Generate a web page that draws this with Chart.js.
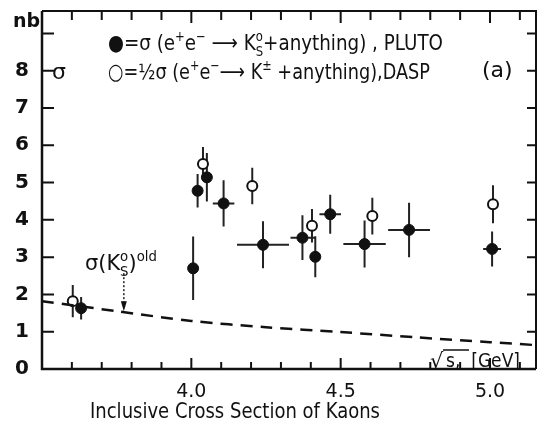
<!DOCTYPE html>
<html lang="en">
<head>
  <meta charset="UTF-8">
  <title>Inclusive Cross Section of Kaons</title>
  <script src="https://cdn.jsdelivr.net/npm/chart.js"></script>
  <style>
    html, body { margin: 0; padding: 0; background: #fff; }
  </style>
</head>
<body>
  <canvas id="kaonChart" width="537" height="427"></canvas>

  <script>
    // PLUTO: sigma(e+e- -> K0s + anything)
    const plutoX    = [3.631, 4.006, 4.021, 4.052, 4.108, 4.24, 4.372, 4.415, 4.465, 4.58, 4.729, 5.007];
    const plutoY    = [1.63, 2.70, 4.78, 5.14, 4.44, 3.33, 3.52, 3.01, 4.15, 3.35, 3.73, 3.22];
    const plutoXErr = [0, 0, 0, 0, 0.036, 0.087, 0.04, 0, 0.036, 0.071, 0.07, 0.03];
    const plutoYErr = [0.3, 0.85, 0.45, 0.65, 0.62, 0.63, 0.6, 0.55, 0.52, 0.63, 0.73, 0.47];

    // DASP: 1/2 sigma(e+e- -> K+- + anything)
    const daspX    = [3.603, 4.039, 4.204, 4.404, 4.606, 5.01];
    const daspY    = [1.82, 5.50, 4.91, 3.84, 4.10, 4.42];
    const daspYErr = [0.43, 0.45, 0.49, 0.45, 0.49, 0.51];

    // old sigma(K0s) curve (dashed) and its arrow
    const oldX = [3.5, 3.75, 4.0, 4.25, 4.5, 4.75, 5.0, 5.154];
    const oldY = [1.82, 1.55, 1.29, 1.12, 0.99, 0.85, 0.72, 0.64];
    const arrowX = 3.774, arrowTop = 2.57, arrowTip = 1.55;

    // axes
    const yTicks = [0, 1, 2, 3, 4, 5, 6, 7, 8, 9];
    const xLabels = [4.0, 4.5, 5.0];

    const FONT = "'DejaVu Sans', sans-serif";
    const INK = '#111';

    // text with super/subscripts; squeezed horizontally to fit width w (if given)
    function rich(ctx, parts, x, y, size, w) {
      const run = (draw) => {
        let cx = 0;
        for (const [t, kind] of parts) {
          const small = `${Math.round(size * 0.62)}px ${FONT}`;
          if (kind === 'n') {
            ctx.font = `${size}px ${FONT}`;
            if (draw) ctx.fillText(t, cx, 0);
            cx += ctx.measureText(t).width;
          } else if (kind === 'sup') {
            ctx.font = small;
            if (draw) ctx.fillText(t, cx, -size * 0.42);
            cx += ctx.measureText(t).width;
          } else if (kind === 'supsub') {
            const [a, b] = t.split('|');
            ctx.font = small;
            if (draw) { ctx.fillText(a, cx, -size * 0.42); ctx.fillText(b, cx, size * 0.25); }
            cx += Math.max(ctx.measureText(a).width, ctx.measureText(b).width);
          }
        }
        return cx;
      };
      const natural = run(false);
      ctx.save();
      ctx.translate(x, y);
      if (w) ctx.scale(w / natural, 1);
      run(true);
      ctx.restore();
    }

    const framePlugin = {
      id: 'frame',
      beforeDatasetsDraw(chart) {
        const ctx = chart.ctx;
        const xs = chart.scales.x, ys = chart.scales.y;
        ctx.save();
        ctx.strokeStyle = '#222';
        ctx.lineWidth = 2;
        ctx.beginPath();
        plutoX.forEach((x, i) => {
          const px = xs.getPixelForValue(x), py = ys.getPixelForValue(plutoY[i]);
          ctx.moveTo(px, ys.getPixelForValue(plutoY[i] - plutoYErr[i]));
          ctx.lineTo(px, ys.getPixelForValue(plutoY[i] + plutoYErr[i]));
          if (plutoXErr[i] > 0) {
            ctx.moveTo(xs.getPixelForValue(x - plutoXErr[i]), py);
            ctx.lineTo(xs.getPixelForValue(x + plutoXErr[i]), py);
          }
        });
        daspX.forEach((x, i) => {
          const px = xs.getPixelForValue(x);
          ctx.moveTo(px, ys.getPixelForValue(daspY[i] - daspYErr[i]));
          ctx.lineTo(px, ys.getPixelForValue(daspY[i] + daspYErr[i]));
        });
        ctx.stroke();

        // arrow to the old curve
        const ax = xs.getPixelForValue(arrowX);
        const aTop = ys.getPixelForValue(arrowTop), aTip = ys.getPixelForValue(arrowTip);
        ctx.setLineDash([2, 2]);
        ctx.lineWidth = 1.5;
        ctx.beginPath();
        ctx.moveTo(ax, aTop);
        ctx.lineTo(ax, aTip - 8);
        ctx.stroke();
        ctx.setLineDash([]);
        ctx.fillStyle = INK;
        ctx.beginPath();
        ctx.moveTo(ax - 3, aTip - 10);
        ctx.lineTo(ax + 3, aTip - 10);
        ctx.lineTo(ax, aTip);
        ctx.closePath();
        ctx.fill();
        ctx.restore();
      },
      afterDraw(chart) {
        const ctx = chart.ctx;
        const { left, right, top, bottom } = chart.chartArea;
        const xs = chart.scales.x, ys = chart.scales.y;
        ctx.save();
        ctx.strokeStyle = INK;
        ctx.fillStyle = INK;

        // frame
        ctx.lineWidth = 2.5;
        ctx.beginPath();
        ctx.moveTo(left, top); ctx.lineTo(left, bottom); ctx.lineTo(right, bottom);
        ctx.stroke();
        ctx.lineWidth = 2;
        ctx.beginPath();
        ctx.moveTo(left, top); ctx.lineTo(right, top); ctx.lineTo(right, bottom);
        ctx.stroke();

        // inward ticks
        ctx.lineWidth = 2;
        ctx.beginPath();
        yTicks.forEach(v => {
          const py = ys.getPixelForValue(v);
          ctx.moveTo(left, py); ctx.lineTo(left + 12, py);
          ctx.moveTo(right, py); ctx.lineTo(right - 9, py);
        });
        xs.ticks.forEach(t => {
          const px = xs.getPixelForValue(t.value);
          const major = xLabels.some(l => Math.abs(l - t.value) < 1e-6);
          ctx.moveTo(px, bottom); ctx.lineTo(px, bottom - (major ? 11 : 7));
          ctx.moveTo(px, top); ctx.lineTo(px, top + (major ? 12 : 9));
        });
        ctx.stroke();

        ctx.textBaseline = 'alphabetic';
        ctx.textAlign = 'left';

        // unit and sigma marks on the y axis
        ctx.font = `bold 19px ${FONT}`;
        ctx.fillText('nb', 13, 27);
        ctx.font = `22px ${FONT}`;
        ctx.fillText('σ', 52, 79);

        // legend
        rich(ctx, [['●', 'n'], ['=σ (e', 'n'], ['+', 'sup'], ['e', 'n'], ['−', 'sup'],
                   [' ⟶ K', 'n'], ['o|S', 'supsub'], ['+anything) , PLUTO', 'n']], 108, 50, 22, 335);
        rich(ctx, [['○', 'n'], ['=½σ (e', 'n'], ['+', 'sup'], ['e', 'n'], ['−', 'sup'],
                   ['⟶ K', 'n'], ['±', 'sup'], [' +anything),DASP', 'n']], 108, 79, 22, 322);
        ctx.font = `22px ${FONT}`;
        ctx.fillText('(a)', 482, 77);

        // old cross section label
        rich(ctx, [['σ(K', 'n'], ['o|S', 'supsub'], [')', 'n'], ['old', 'sup']], 85, 270, 22, 72);

        // sqrt(s) label
        ctx.font = `21px ${FONT}`;
        ctx.fillText('√', 430, 368);
        rich(ctx, [['s,  [GeV]', 'n']], 446, 367, 20, 74);
        ctx.lineWidth = 1.5;
        ctx.beginPath();
        ctx.moveTo(443, 350); ctx.lineTo(469, 350);
        ctx.stroke();

        // x axis title
        rich(ctx, [['Inclusive Cross Section of Kaons', 'n']], 90, 418, 22, 290);
        ctx.restore();
      }
    };

    const ctx = document.getElementById('kaonChart').getContext('2d');
    new Chart(ctx, {
      type: 'scatter',
      data: {
        datasets: [{
          label: 'σ(K0s) old',
          data: oldX.map((x, i) => ({ x, y: oldY[i] })),
          showLine: true,
          borderColor: INK,
          borderWidth: 2.5,
          borderDash: [12, 8],
          pointRadius: 0,
          tension: 0.3
        }, {
          label: 'PLUTO',
          data: plutoX.map((x, i) => ({ x, y: plutoY[i] })),
          pointRadius: 5.5,
          backgroundColor: INK,
          borderColor: INK,
          borderWidth: 1
        }, {
          label: 'DASP',
          data: daspX.map((x, i) => ({ x, y: daspY[i] })),
          pointRadius: 5,
          backgroundColor: '#fff',
          borderColor: INK,
          borderWidth: 2
        }]
      },
      options: {
        responsive: false,
        animation: false,
        layout: { autoPadding: false, padding: { top: 11, right: 1, left: 0, bottom: 0 } },
        plugins: { legend: { display: false }, tooltip: { enabled: false } },
        scales: {
          x: {
            type: 'linear',
            min: 3.5,
            max: 5.154,
            grid: { display: false, drawTicks: false },
            border: { display: false },
            afterBuildTicks: s => {
              const t = [];
              for (let k = 36; k <= 51; k++) t.push({ value: k / 10 });
              s.ticks = t;
            },
            ticks: {
              autoSkip: false,
              maxRotation: 0,
              padding: 12,
              color: INK,
              font: { family: FONT, size: 19 },
              callback: v => xLabels.some(l => Math.abs(l - v) < 1e-6) ? Number(v).toFixed(1) : ''
            },
            afterFit: s => { s.height = 58; s.paddingLeft = 0; s.paddingRight = 0; }
          },
          y: {
            min: 0,
            max: 9.6,
            grid: { display: false, drawTicks: false },
            border: { display: false },
            afterBuildTicks: s => { s.ticks = yTicks.map(v => ({ value: v })); },
            ticks: {
              padding: 13,
              color: INK,
              font: { family: FONT, size: 20, weight: 'bold' },
              callback: v => v === 9 ? '' : String(v)
            },
            afterFit: s => { s.width = 42; s.paddingTop = 0; s.paddingBottom = 0; }
          }
        }
      },
      plugins: [framePlugin]
    });
  </script>
</body>
</html>
